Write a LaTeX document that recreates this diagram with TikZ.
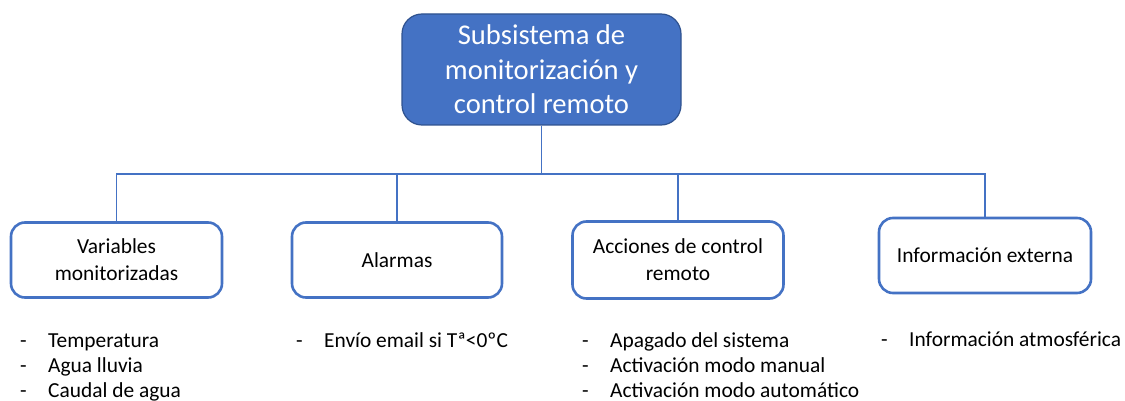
\documentclass[tikz,border=0pt]{standalone}
\usepackage{fontspec}
\setmainfont{Carlito}
\definecolor{accent}{HTML}{4472C4}
\definecolor{accentdark}{HTML}{2F528F}
\begin{document}
\begin{tikzpicture}[x=1pt,y=-1pt,
  topbox/.style={draw=accentdark, line width=1.2pt, fill=accent, rounded corners=20pt,
    text=white, align=center, font=\fontsize{28.6}{34.5}\selectfont, inner sep=0pt},
  childbox/.style={draw=accent, line width=2.6pt, fill=white, rounded corners=14pt,
    text=black, align=center, font=\fontsize{21.4}{27}\selectfont, inner sep=0pt},
  conn/.style={draw=accent, line width=1.7pt},
  item/.style={anchor=base west, inner sep=0pt, font=\fontsize{21.4}{25}\selectfont, text=black}
]
\useasboundingbox (0,0) rectangle (1125,401);

\node[topbox, minimum width=279pt, minimum height=111pt] (top) at (541.5,69.5)
  {Subsistema de\\monitorización y\\control remoto};

\node[childbox, minimum width=211pt, minimum height=75pt] (b1) at (116.5,260) {Variables\\monitorizadas};
\node[childbox, minimum width=210pt, minimum height=75pt] (b2) at (397,260) {Alarmas};
\node[childbox, minimum width=211pt, minimum height=77pt] (b3) at (678,260) {Acciones de control\\remoto};
\node[childbox, minimum width=212pt, minimum height=75pt] (b4) at (985,255.5) {Información externa};

\coordinate (bus) at (541.5,174);
\draw[conn] (top.south) -- (bus);
\draw[conn] (b1.north) |- (bus) -| (b4.north);
\draw[conn] (b2.north) -- (b2.north |- bus);
\draw[conn] (b3.north) -- (b3.north |- bus);

\newcommand{\bl}{\llap{-\hspace{21.5pt}}}
\node[item] (v1) at (48,347) {\bl Temperatura};
\node[item] (v2) at (48,372) {\bl Agua lluvia};
\node[item] (v3) at (48,397) {\bl Caudal de agua};

\node[item] (a1) at (324,347) {\bl Envío email si Tª<0ºC};

\node[item] (c1) at (610,347) {\bl Apagado del sistema};
\node[item] (c2) at (610,372) {\bl Activación modo manual};
\node[item] (c3) at (610,397) {\bl Activación modo automático};

\node[item] (i1) at (909,346) {\bl Información atmosférica};
\end{tikzpicture}
\end{document}
